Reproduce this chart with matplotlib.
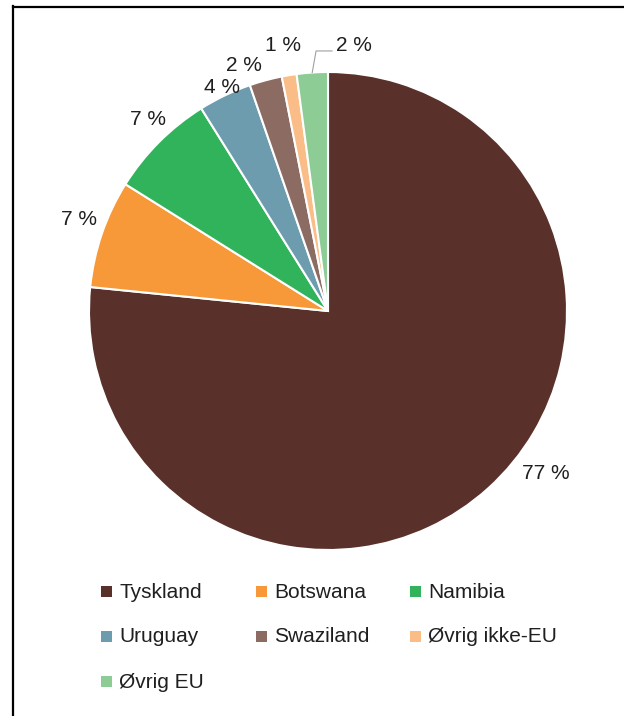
import numpy as np
import matplotlib
matplotlib.use('Agg')
import matplotlib.pyplot as plt
from matplotlib.lines import Line2D
from matplotlib.patches import Rectangle

plt.rcParams['font.family'] = ['Liberation Sans', 'DejaVu Sans']

# share of imports by country (%)
countries = ['Tyskland', 'Botswana', 'Namibia', 'Uruguay', 'Swaziland',
             'Øvrig ikke-EU', 'Øvrig EU']
shares = [76.6, 7.3, 7.2, 3.6, 2.2, 1.0, 2.1]
colors = ['#59312a', '#f79839', '#31b35c', '#6e9caf', '#8c6b62',
          '#fbbd87', '#8dcc95']

# where the value labels sit (pie radius = 1)
label_pos = [(0.912, -0.678), (-1.042, 0.381), (-0.753, 0.803),
             (-0.444, 0.937), (-0.351, 1.029), (-0.188, 1.109),
             (0.109, 1.109)]

W, H = 624, 716
fig = plt.figure(figsize=(W / 100, H / 100), dpi=100)

# legend drawn in pixel coordinates
lax = fig.add_axes([0, 0, 1, 1])
lax.set_xlim(0, W)
lax.set_ylim(H, 0)
lax.axis('off')
col_x = [106, 261, 415]
row_y = [591, 636, 681]
for i, (name, c) in enumerate(zip(countries, colors)):
    x = col_x[i % 3]
    y = row_y[i // 3]
    lax.add_patch(Rectangle((x - 5.5, y - 5.5), 11, 11, color=c, lw=0))
    lax.text(x + 13, y + 1, name, fontsize=15, color='#1f1f1f',
             ha='left', va='center')

# pie
cx, cy, r = 328, 311, 239
ax = fig.add_axes([(cx - r) / W, (H - cy - r) / H, 2 * r / W, 2 * r / H])
wedges, _ = ax.pie(shares, colors=colors, startangle=90, counterclock=False,
                   radius=1, wedgeprops=dict(edgecolor='white', linewidth=1.5))
ax.set_xlim(-1, 1)
ax.set_ylim(-1, 1)
ax.set_aspect('equal')
ax.axis('off')

for v, (lx, ly) in zip(shares, label_pos):
    ax.text(lx, ly, f'{v:.0f} %', fontsize=15, color='#1f1f1f',
            ha='center', va='center', clip_on=False)

# leader line for the last slice
w = wedges[-1]
mid = np.deg2rad((w.theta1 + w.theta2) / 2)
ax.plot([np.cos(mid), -0.050, 0.017], [np.sin(mid), 1.088, 1.088],
        color='#a0a0a0', lw=0.8, clip_on=False)

# frame lines on top and left
fig.add_artist(Line2D([13 / W, 13 / W], [0, 1 - 6 / H],
                      transform=fig.transFigure, color='black', lw=1.6))
fig.add_artist(Line2D([13 / W, 1], [1 - 7 / H, 1 - 7 / H],
                      transform=fig.transFigure, color='black', lw=1.6))

fig.savefig('out.png', dpi=100)
